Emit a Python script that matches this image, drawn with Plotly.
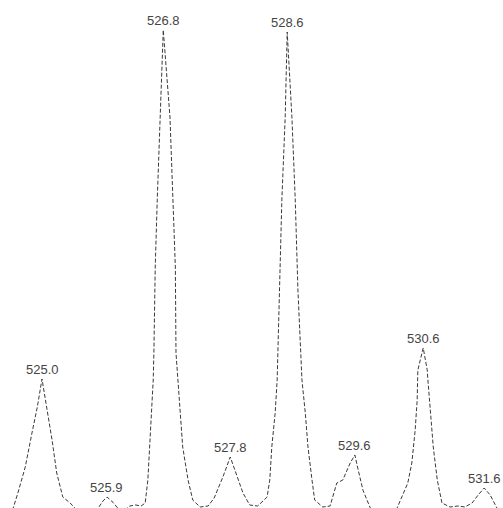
import plotly.graph_objects as go

# profile spectrum (m/z, relative intensity)
mz = [524.45, 524.57, 524.64, 524.75, 524.85, 524.93, 525.00, 525.07, 525.15, 525.22,
      525.31, 525.42, 525.49, 525.66, 525.84, 525.91, 525.97, 526.04, 526.13, 526.22,
      526.31, 526.40, 526.48, 526.54, 526.58, 526.61, 526.64, 526.66, 526.67, 526.69,
      526.72, 526.76, 526.81, 526.91, 526.96, 526.99, 527.00, 527.03, 527.06, 527.10,
      527.18, 527.25, 527.36, 527.48, 527.57, 527.70, 527.81, 527.91, 528.00, 528.10,
      528.22, 528.36, 528.40, 528.43, 528.48, 528.51, 528.54, 528.58, 528.63, 528.66,
      528.73, 528.78, 528.82, 528.88, 528.93, 528.97, 529.03, 529.07, 529.19, 529.30,
      529.40, 529.49, 529.60, 529.67, 529.72, 529.79, 529.90, 530.09, 530.30, 530.37,
      530.46, 530.52, 530.57, 530.60, 530.61, 530.69, 530.75, 530.76, 530.79, 530.84,
      530.90, 530.97, 531.09, 531.21, 531.31, 531.42, 531.51, 531.60, 531.69, 531.79,
      531.91]
intensity = [0.00, 2.45, 5.51, 10.82, 17.76, 23.06, 28.78, 23.06, 16.33, 9.59,
             4.69, 3.47, 2.45, 0.00, 2.45, 3.88, 4.69, 3.88, 2.45, 1.84,
             2.86, 3.06, 2.86, 3.47, 8.16, 14.90, 21.84, 28.57, 34.08, 51.63,
             65.31, 82.24, 100.00, 82.24, 65.31, 51.63, 34.08, 28.57, 21.84, 14.90,
             8.16, 4.08, 2.65, 2.86, 4.49, 8.78, 12.86, 8.78, 5.51, 3.06,
             2.86, 4.69, 8.16, 14.90, 21.84, 28.57, 46.94, 65.31, 82.24, 99.59,
             82.24, 65.31, 46.94, 28.57, 21.84, 14.90, 8.16, 4.08, 2.65, 2.86,
             7.55, 8.16, 11.63, 13.27, 10.20, 6.12, 2.45, 0.00, 2.45, 4.69,
             7.55, 11.63, 18.37, 24.49, 30.61, 35.10, 30.61, 28.57, 23.06, 14.90,
             8.16, 3.47, 2.65, 2.86, 2.65, 3.47, 5.10, 6.53, 5.10, 2.45,
             0.00]

# labelled peaks
peak_mz = [525.00, 525.97, 526.81, 527.81, 528.66, 529.67, 530.69, 531.60]
peak_int = [28.78, 4.69, 100.00, 12.86, 99.59, 13.27, 35.10, 6.53]
peak_labels = ["525.0", "525.9", "526.8", "527.8", "528.6", "529.6", "530.6", "531.6"]

fig = go.Figure()
fig.add_trace(go.Scatter(x=mz, y=intensity, mode="lines",
                         line=dict(color="#3a3a3a", width=1, dash="4px,2px"),
                         hoverinfo="skip"))

for px, py, lab in zip(peak_mz, peak_int, peak_labels):
    fig.add_annotation(x=px, y=py, text=lab, showarrow=False,
                       xanchor="center", yanchor="bottom", yshift=0,
                       font=dict(family="Liberation Sans, Arial", size=13, color="#444444"))

fig.update_xaxes(range=[524.373, 531.881], visible=False)
fig.update_yaxes(range=[2.45, 106.12], visible=False)
fig.update_layout(width=503, height=508, margin=dict(l=0, r=0, t=0, b=0),
                  paper_bgcolor="white", plot_bgcolor="white", showlegend=False)
# drop the default 8px body margin so the figure fills the window exactly
fig.write_html("out.html", config={"displayModeBar": False},
               post_script="document.body.style.margin='0';document.body.style.overflow='hidden';")
